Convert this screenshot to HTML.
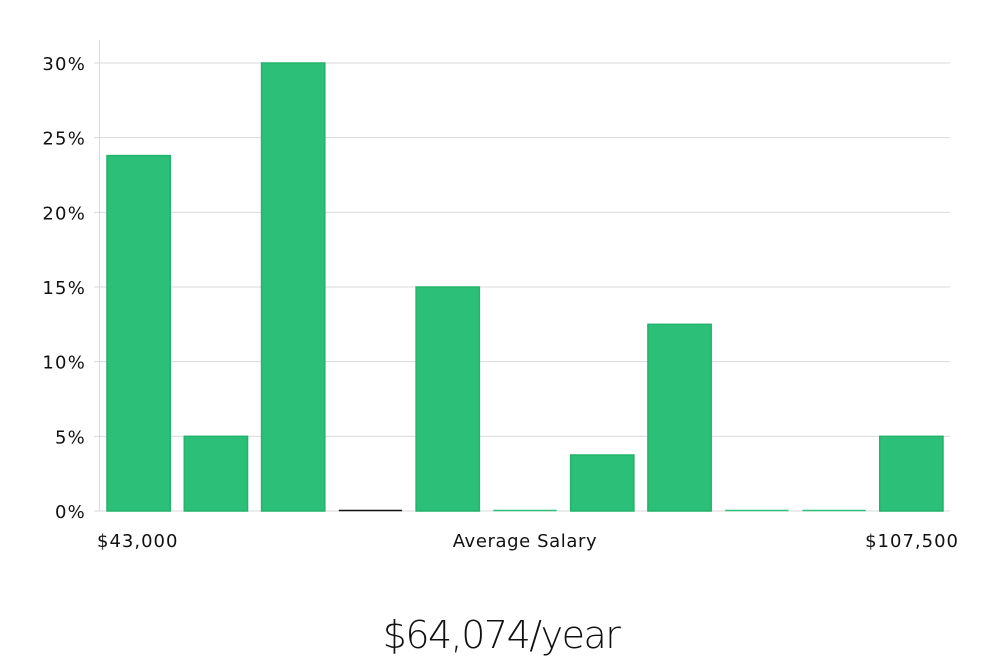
<!DOCTYPE html>
<html><head><meta charset="utf-8"><style>
body{margin:0;background:#fff;width:1000px;height:660px;overflow:hidden;font-family:"DejaVu Sans","Liberation Sans",sans-serif}
</style></head><body>
<svg id="chart" width="1000" height="660" xmlns="http://www.w3.org/2000/svg">
<g id="grid"></g>
<g id="bars"></g>
<g id="axes"></g>
<text x="97" y="547" font-size="18" letter-spacing="1" fill="#111">$43,000</text>
<text x="525" y="547" font-size="18" letter-spacing="0.6" fill="#111" text-anchor="middle">Average Salary</text>
<text x="959" y="547" font-size="18" letter-spacing="1" fill="#111" text-anchor="end">$107,500</text>
<text x="501" y="648" font-size="38" fill="#111" text-anchor="middle" font-family="DejaVu Sans, sans-serif" font-weight="200" letter-spacing="-1.5">$64,074/year</text>
</svg>
<script>
const categories=["b1","b2","b3","b4","b5","b6","b7","b8","b9","b10","b11"];
const values=[23.8,5,30,0,15,0,3.75,12.5,0,0,5];
const ticks=[0,5,10,15,20,25,30];
const tickLabels=["0%","5%","10%","15%","20%","25%","30%"];
const NS="http://www.w3.org/2000/svg";
const x0=100,x1=950,y0=511,yTop=63,maxV=30;
const y=v=>y0-(v/maxV)*(y0-yTop);
const band=(x1-x0)/categories.length;
const xb=i=>x0+i*band;
function mk(t,a,p){const e=document.createElementNS(NS,t);for(const k in a)e.setAttribute(k,a[k]);p.appendChild(e);return e;}
const grid=document.getElementById('grid'),bars=document.getElementById('bars'),axes=document.getElementById('axes');
ticks.forEach((t,i)=>{
  const l=mk('line',{x1:94,x2:x1,y1:y(t),y2:y(t),stroke:'#d9d9d9','stroke-width':1},grid);
  
  
  const tx=mk('text',{x:86,y:y(t)+7,'font-size':18,'letter-spacing':1.2,fill:'#111','text-anchor':'end'},axes);
  tx.textContent=tickLabels[i];
  
  
});
const ax=mk('line',{x1:99.5,x2:99.5,y1:40,y2:y0,stroke:'#d9d9d9','stroke-width':1},axes);


values.forEach((v,i)=>{
  const bx=xb(i)+7,bw=band-14;
  if(v>0){
    const r=mk('rect',{x:bx,y:y(v),width:bw,height:y0-y(v),fill:'#2bbf78',stroke:'#22b36c','stroke-width':1.5},bars);
    
    
  }else{
    const r=mk('line',{x1:bx,x2:bx+bw,y1:y0-0.5,y2:y0-0.5,stroke:i===3?'#111':'#2bbf78','stroke-width':1.5},bars);
    
    
  }
});
</script>
</body></html>
